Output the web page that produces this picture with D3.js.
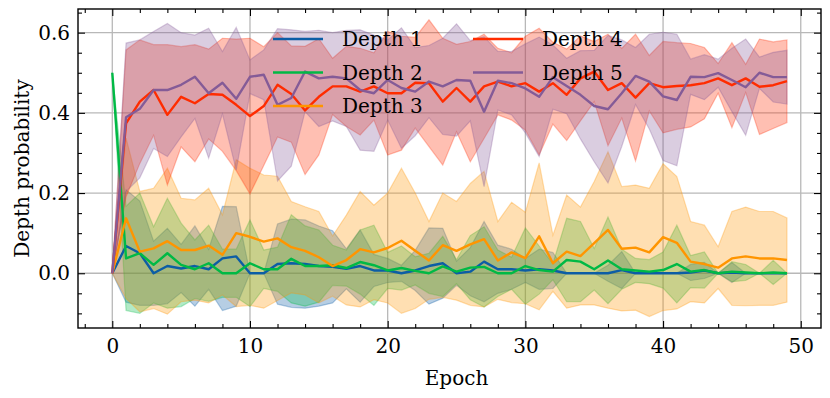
<!DOCTYPE html>
<html>
<head>
<meta charset="utf-8">
<script src="https://cdn.jsdelivr.net/npm/d3@7"></script>
<style>
  body { margin: 0; background: #fff; }
  text { font-family: "DejaVu Serif", serif; }
</style>
</head>
<body>
<div id="chart"></div>
<script>
// data: mean and std of depth probability per epoch (0..49)
const epochs = d3.range(50);
const seriesNames = ["Depth 1", "Depth 2", "Depth 3", "Depth 4", "Depth 5"];
const seriesColors = ["#0C5DA5", "#00B945", "#FF9500", "#FF2C00", "#845B97"];

const depth1Mean = [0, 0.068, 0.05, 0, 0.018, 0.012, 0.018, 0.01, 0.037, 0.042,
  0, 0, 0.023, 0.025, 0.023, 0.018, 0.016, 0.011, 0.018, 0.007,
  0.007, 0, 0.007, 0.018, 0.025, 0, 0.004, 0.029, 0.01, 0.01,
  0.007, 0.01, 0.007, 0, 0, 0, 0, 0.008, 0, 0,
  0, 0, 0.002, 0.007, 0, 0.002, 0, 0, 0, 0];
const depth1Std = [0, 0.14, 0.13, 0.08, 0.094, 0.06, 0.1, 0.05, 0.13, 0.124,
  0, 0, 0.1, 0.11, 0.11, 0.1, 0.09, 0.05, 0.09, 0.04,
  0.03, 0.02, 0.05, 0.095, 0.087, 0.03, 0.06, 0.1, 0.06, 0.05,
  0.03, 0.05, 0.045, 0, 0, 0, 0.02, 0.046, 0, 0,
  0, 0, 0.02, 0.02, 0, 0.025, 0, 0, 0, 0];

const depth2Mean = [0.5, 0.037, 0.05, 0.021, 0.05, 0.021, 0.01, 0.025, 0, 0,
  0.025, 0.01, 0.01, 0.036, 0.018, 0.018, 0.02, 0.013, 0.028, 0.02,
  0.007, 0.013, 0.006, 0, 0.017, 0.004, 0.014, 0.016, 0, 0,
  0.018, 0.008, 0.004, 0.033, 0.029, 0.01, 0.032, 0.01, 0.007, 0.004,
  0.008, 0.023, 0.004, 0.008, 0, 0.004, 0.002, 0, 0.002, 0];
const depth2Std = [0, 0.13, 0.15, 0.095, 0.137, 0.104, 0.073, 0.095, 0.06, 0.06,
  0.108, 0.048, 0.055, 0.11, 0.1, 0.09, 0.05, 0.045, 0.08, 0.1,
  0.045, 0.055, 0.035, 0.05, 0.075, 0.03, 0.08, 0.1, 0.058, 0.04,
  0.095, 0.06, 0.02, 0.104, 0.1, 0.052, 0.108, 0.05, 0.03, 0.03,
  0.045, 0.097, 0.04, 0.045, 0, 0.025, 0.02, 0, 0.03, 0];

const depth3Mean = [0, 0.137, 0.054, 0.062, 0.08, 0.058, 0.058, 0.069, 0.046, 0.1,
  0.091, 0.079, 0.087, 0.065, 0.056, 0.04, 0.018, 0.033, 0.06, 0.052,
  0.063, 0.081, 0.056, 0.032, 0.07, 0.056, 0.072, 0.085, 0.032, 0.052,
  0.038, 0.092, 0.025, 0.054, 0.043, 0.075, 0.108, 0.061, 0.064, 0.052,
  0.09, 0.076, 0.029, 0.023, 0.014, 0.037, 0.042, 0.037, 0.037, 0.033];
const depth3Std = [0, 0.2, 0.15, 0.15, 0.182, 0.129, 0.125, 0.143, 0.1, 0.183,
  0.171, 0.166, 0.155, 0.114, 0.11, 0.114, 0.075, 0.112, 0.144, 0.118,
  0.137, 0.181, 0.144, 0.097, 0.13, 0.123, 0.152, 0.169, 0.097, 0.125,
  0.114, 0.183, 0.07, 0.141, 0.122, 0.154, 0.195, 0.155, 0.156, 0.16,
  0.183, 0.165, 0.1, 0.097, 0.052, 0.117, 0.123, 0.117, 0.117, 0.105];

const depth4Mean = [0, 0.374, 0.428, 0.457, 0.395, 0.44, 0.424, 0.447, 0.445, 0.42,
  0.392, 0.417, 0.47, 0.447, 0.406, 0.44, 0.466, 0.466, 0.453, 0.466,
  0.449, 0.449, 0.475, 0.474, 0.428, 0.462, 0.428, 0.466, 0.478, 0.466,
  0.474, 0.453, 0.474, 0.445, 0.486, 0.503, 0.457, 0.474, 0.438, 0.474,
  0.464, 0.467, 0.469, 0.474, 0.486, 0.469, 0.486, 0.465, 0.469, 0.479];
const depth4Std = [0, 0.183, 0.154, 0.113, 0.175, 0.125, 0.146, 0.112, 0.141, 0.164,
  0.194, 0.148, 0.13, 0.12, 0.16, 0.145, 0.07, 0.1, 0.108, 0.084,
  0.154, 0.142, 0.113, 0.158, 0.158, 0.109, 0.15, 0.13, 0.083, 0.084,
  0.117, 0.158, 0.102, 0.114, 0.106, 0.075, 0.139, 0.087, 0.158, 0.069,
  0.114, 0.108, 0.104, 0.089, 0.037, 0.106, 0.035, 0.119, 0.108, 0.103];

const depth5Mean = [0, 0.389, 0.41, 0.457, 0.457, 0.47, 0.49, 0.449, 0.475, 0.435,
  0.49, 0.495, 0.42, 0.437, 0.503, 0.486, 0.49, 0.486, 0.457, 0.449,
  0.482, 0.462, 0.453, 0.478, 0.466, 0.482, 0.48, 0.403, 0.48, 0.474,
  0.461, 0.44, 0.489, 0.467, 0.445, 0.417, 0.409, 0.449, 0.492, 0.478,
  0.441, 0.432, 0.49, 0.489, 0.499, 0.482, 0.464, 0.5, 0.489, 0.489];
const depth5Std = [0, 0.185, 0.172, 0.146, 0.166, 0.13, 0.104, 0.162, 0.078, 0.178,
  0.042, 0.062, 0.19, 0.17, 0.1, 0.12, 0.11, 0.12, 0.15, 0.145,
  0.1, 0.15, 0.11, 0.09, 0.12, 0.14, 0.1, 0.187, 0.073, 0.079,
  0.111, 0.149, 0.08, 0.069, 0.11, 0.139, 0.184, 0.133, 0.071, 0.118,
  0.16, 0.164, 0.044, 0.056, 0.035, 0.079, 0.12, 0.039, 0.062, 0.067];

const xMajor = [0, 10, 20, 30, 40, 50];
const yMajor = [0, 0.2, 0.4, 0.6];

const means = [depth1Mean, depth2Mean, depth3Mean, depth4Mean, depth5Mean];
const stds = [depth1Std, depth2Std, depth3Std, depth4Std, depth5Std];

const series = seriesNames.map((name, i) => ({
  name,
  color: seriesColors[i],
  values: epochs.map(e => ({ epoch: e, mean: means[i][e], std: stds[i][e] }))
}));

// layout
const W = 830, H = 398;
const margin = { top: 9, right: 9, bottom: 70, left: 78 };
const width = W - margin.left - margin.right;
const height = H - margin.top - margin.bottom;
const fontSize = 20;

const svg = d3.select("#chart").append("svg")
  .attr("width", W)
  .attr("height", H);

const g = svg.append("g")
  .attr("transform", `translate(${margin.left},${margin.top})`);

const xScale = d3.scaleLinear().domain([-2.49, 51.47]).range([0, width]);
const yScale = d3.scaleLinear().domain([-0.1365, 0.659]).range([height, 0]);

// grid
g.append("g").selectAll("line").data(xMajor).join("line")
  .attr("x1", d => xScale(d)).attr("x2", d => xScale(d))
  .attr("y1", 0).attr("y2", height)
  .attr("stroke", "#b8b8b8").attr("stroke-width", 1.3);
g.append("g").selectAll("line").data(yMajor).join("line")
  .attr("y1", d => yScale(d)).attr("y2", d => yScale(d))
  .attr("x1", 0).attr("x2", width)
  .attr("stroke", "#b8b8b8").attr("stroke-width", 1.3);

// bands
const area = d3.area()
  .x(d => xScale(d.epoch))
  .y0(d => yScale(d.mean - d.std))
  .y1(d => yScale(d.mean + d.std));

g.append("g").selectAll("path").data(series).join("path")
  .attr("d", d => area(d.values))
  .attr("fill", d => d.color)
  .attr("fill-opacity", 0.3)
  .attr("stroke", d => d.color)
  .attr("stroke-opacity", 0.3)
  .attr("stroke-width", 1.2);

// mean lines
const line = d3.line()
  .x(d => xScale(d.epoch))
  .y(d => yScale(d.mean));

g.append("g").selectAll("path").data(series).join("path")
  .attr("d", d => line(d.values))
  .attr("fill", "none")
  .attr("stroke", d => d.color)
  .attr("stroke-width", 2.4)
  .attr("stroke-linejoin", "round");

// axes with inward ticks on all four sides
const xMinor = d3.range(-2, 52, 2).filter(v => v % 10 !== 0);
const yMinor = d3.range(-0.1, 0.66, 0.05).filter(v => Math.abs(Math.round(v * 5) - v * 5) > 1e-6);

function styleAxis(sel) {
  sel.select(".domain").remove();
  sel.selectAll(".tick line").attr("stroke", "#000").attr("stroke-width", 1.1);
  sel.selectAll("text").attr("font-size", fontSize).attr("fill", "#000")
    .style("font-family", "'DejaVu Serif', serif");
}

g.append("g").attr("transform", `translate(0,${height})`)
  .call(d3.axisBottom(xScale).tickValues(xMajor).tickSize(-7).tickPadding(11).tickFormat(d3.format("d")))
  .call(styleAxis);
g.append("g").attr("transform", `translate(0,${height})`)
  .call(d3.axisBottom(xScale).tickValues(xMinor).tickSize(-4).tickFormat(""))
  .call(styleAxis);
g.append("g")
  .call(d3.axisTop(xScale).tickValues(xMajor).tickSize(-7).tickFormat(""))
  .call(styleAxis);
g.append("g")
  .call(d3.axisTop(xScale).tickValues(xMinor).tickSize(-4).tickFormat(""))
  .call(styleAxis);

g.append("g")
  .call(d3.axisLeft(yScale).tickValues(yMajor).tickSize(-7).tickPadding(8).tickFormat(d3.format(".1f")))
  .call(styleAxis);
g.append("g")
  .call(d3.axisLeft(yScale).tickValues(yMinor).tickSize(-4).tickFormat(""))
  .call(styleAxis);
g.append("g").attr("transform", `translate(${width},0)`)
  .call(d3.axisRight(yScale).tickValues(yMajor).tickSize(-7).tickFormat(""))
  .call(styleAxis);
g.append("g").attr("transform", `translate(${width},0)`)
  .call(d3.axisRight(yScale).tickValues(yMinor).tickSize(-4).tickFormat(""))
  .call(styleAxis);

// frame
g.append("rect")
  .attr("width", width).attr("height", height)
  .attr("fill", "none").attr("stroke", "#000").attr("stroke-width", 1.4);

// axis labels
svg.append("text")
  .attr("x", margin.left + xScale(25)).attr("y", 385)
  .attr("text-anchor", "middle").attr("font-size", fontSize)
  .text("Epoch");
svg.append("text")
  .attr("transform", `translate(22,${margin.top + height / 2}) rotate(-90)`)
  .attr("text-anchor", "middle").attr("dy", "0.35em").attr("font-size", fontSize)
  .text("Depth probability");

// legend (two columns, no frame)
const legend = svg.append("g");
const legendPos = [[273, 39], [273, 72.5], [273, 106], [473, 39], [473, 72.5]];
series.forEach((s, i) => {
  const [lx, ly] = legendPos[i];
  legend.append("line")
    .attr("x1", lx).attr("x2", lx + 50).attr("y1", ly).attr("y2", ly)
    .attr("stroke", s.color).attr("stroke-width", 2.4);
  legend.append("text")
    .attr("x", lx + 69).attr("y", ly).attr("dy", "0.35em")
    .attr("font-size", fontSize)
    .text(s.name);
});
</script>
</body>
</html>
